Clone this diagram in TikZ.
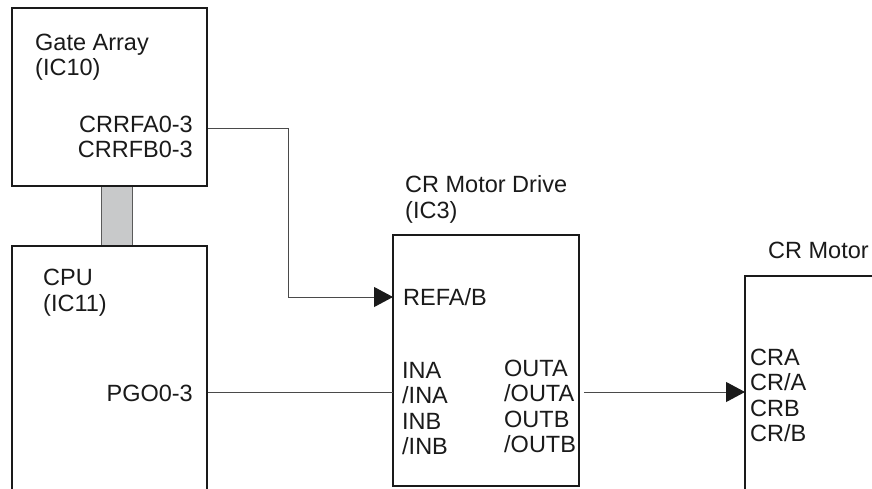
\documentclass[tikz,border=0pt]{standalone}
\usepackage{fontspec}
\setmainfont{Liberation Sans}
\usepackage{tikz}
\usepackage{xcolor}
\usetikzlibrary{arrows.meta,positioning}
\definecolor{ink}{HTML}{1A1A1A}
\definecolor{wire}{HTML}{4A4A4A}
\definecolor{busfill}{HTML}{C8C9CA}
\definecolor{busline}{HTML}{5A5A5A}
\tikzset{
  chip/.style={draw=ink,fill=white,line width=2pt,rectangle,inner sep=0pt},
  bus/.style={draw=busline,fill=busfill,line width=0.8pt,rectangle,inner sep=0pt,
              minimum width=31pt,minimum height=60pt},
  lbl/.style={anchor=base west,inner sep=0pt,text=ink,
              font=\fontsize{23.5}{26}\selectfont},
  lblr/.style={lbl,anchor=base east},
  sig/.style={draw=wire,line width=1pt},
  sigarr/.style={sig,-{Triangle[length=19pt,width=20pt,color=ink,fill=ink]}}
}

\begin{document}
\begin{tikzpicture}[x=1pt,y=-1pt]
  \useasboundingbox (0,0) rectangle (872,488);
  \clip (0,0) rectangle (872,488);

  \node[bus] (bus) at (116.5,216) {};
  \node[chip,minimum width=195pt,minimum height=178pt] (ga) at (109.5,97) {};
  \node[chip,minimum width=195pt,minimum height=354pt] (cpu) at (109.5,423) {};
  \node[chip,minimum width=186pt,minimum height=251pt] (drv) at (486,360.5) {};
  \node[chip,minimum width=255pt,minimum height=424pt] (mot) at (872.5,488) {};

  \node[lbl] (ganame) at (35,50) {Gate Array};
  \node[lbl] (gaic) at (35,75) {(IC10)};
  \node[lblr] (rfa) at (193,132) {CRRFA0-3};
  \node[lblr] (rfb) at (193,157) {CRRFB0-3};

  \node[lbl] (cpuname) at (43,285) {CPU};
  \node[lbl] (cpuic) at (43,311) {(IC11)};
  \node[lblr] (pgo) at (193,401) {PGO0-3};

  \node[lbl] (drvname) at (405,192) {CR Motor Drive};
  \node[lbl] (drvic) at (405,218) {(IC3)};
  \node[lbl] (refa) at (403,305) {REFA/B};
  \foreach \t [count=\i] in {INA,/INA,INB,/INB}
    \node[lbl] (in\i) at (402,{378+25.5*(\i-1)}) {\t};
  \foreach \t [count=\i] in {OUTA,/OUTA,OUTB,/OUTB}
    \node[lbl] (out\i) at (504,{376+25.5*(\i-1)}) {\t};

  \node[lbl] (motname) at (768,258) {CR Motor};
  \foreach \t [count=\i] in {CRA,CR/A,CRB,CR/B}
    \node[lbl] (cr\i) at (750,{365+25.5*(\i-1)}) {\t};

  \coordinate (rfaout) at (208,128);
  \coordinate (bend) at (288,128);
  \coordinate (refain) at (393,297);
  \coordinate (pgoout) at (208,392);
  \coordinate (pgoin) at (393,392);
  \coordinate (drvout) at (584,392);
  \coordinate (crin) at (745,392);

  \draw[sigarr] (rfaout) -- (bend) |- (refain);
  \draw[sig] (pgoout) -- (pgoin);
  \draw[sigarr] (drvout) -- (crin);
\end{tikzpicture}
\end{document}
